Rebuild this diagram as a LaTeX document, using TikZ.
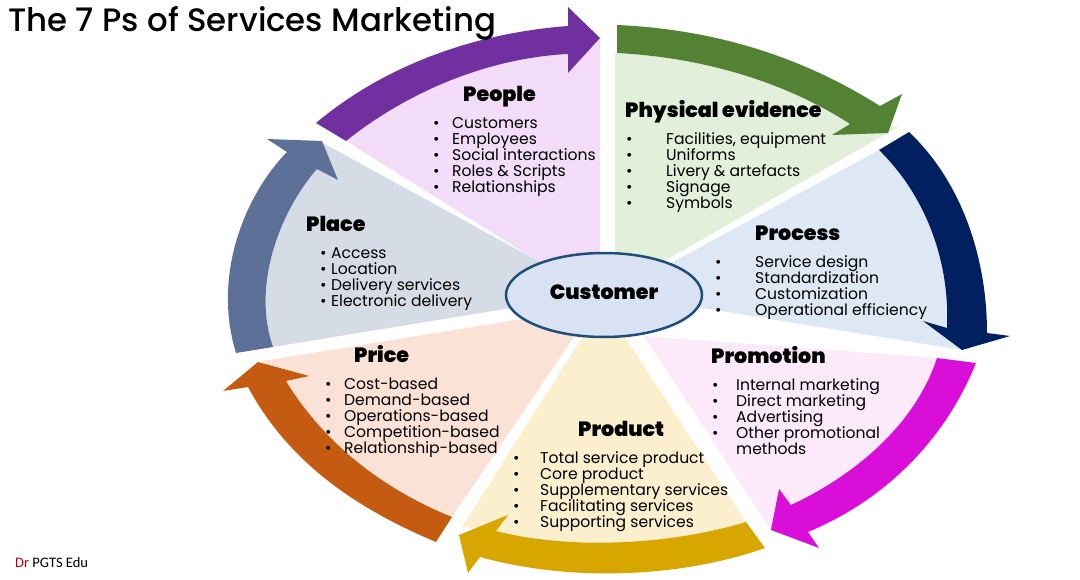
\documentclass[tikz,border=0pt]{standalone}
\usepackage{fontspec}
\setmainfont{Poppins}
\newfontfamily\headfont{Poppins Black}
\newfontfamily\titlefont{Poppins Medium}
\newfontfamily\markfont{Carlito}
\usepackage{tikz}
\usetikzlibrary{positioning,shapes.geometric}

\definecolor{peoplebg}{HTML}{F2DCF7}
\definecolor{physbg}{HTML}{E2EFDA}
\definecolor{processbg}{HTML}{DEE8F4}
\definecolor{promobg}{HTML}{FCE9FA}
\definecolor{productbg}{HTML}{FCEFCD}
\definecolor{pricebg}{HTML}{FAE3D6}
\definecolor{placebg}{HTML}{D6DCE5}
\definecolor{peoplearr}{HTML}{7030A0}
\definecolor{physarr}{HTML}{548235}
\definecolor{processarr}{HTML}{002060}
\definecolor{promoarr}{HTML}{D90FD9}
\definecolor{productarr}{HTML}{D8A600}
\definecolor{pricearr}{HTML}{C55A11}
\definecolor{placearr}{HTML}{5D7097}
\definecolor{custbg}{HTML}{D9E2F3}
\definecolor{custline}{HTML}{1F4E79}

\newenvironment{plist}[1]{\begin{tabular}{@{}p{#1}@{}l@{}}}{\end{tabular}}
\newcommand{\pit}[1]{\textbullet & \smash{#1} \\}

\tikzset{
  head/.style={anchor=west,inner sep=0pt,text height=15pt,text depth=4pt,font=\headfont\fontsize{20.6}{22}\selectfont},
  items/.style={inner sep=0pt,font=\fontsize{15.6}{16}\selectfont},
}

\begin{document}
\begin{tikzpicture}[x=1pt,y=-1pt]
  \useasboundingbox (0,0) rectangle (1080,580);

  \fill[peoplebg] (346,141) .. controls (410,90) and (490,58) .. (568,54) -- (600,38) -- (600,300) -- cycle;
  \fill[physbg] (615,53) .. controls (710,58) and (790,85) .. (850,124) -- (898,127) -- (640,275) -- (615,290) -- cycle;
  \fill[processbg] (879,150) .. controls (925,195) and (950,260) .. (947,328) -- (962,350) -- (640,298) -- (640,280) -- cycle;
  \fill[promobg] (644,336) -- (937,358) .. controls (915,425) and (855,475) .. (791,505) -- (771,530) -- cycle;
  \fill[productbg] (590,325) -- (617,325) -- (746,522) .. controls (670,545) and (570,550) .. (496,531) -- (462,527) -- cycle;
  \fill[pricebg] (262,361) -- (560,313) -- (582,325) -- (452,517) .. controls (385,490) and (325,445) .. (286,381) -- cycle;
  \fill[placebg] (273,347) .. controls (250,280) and (285,205) .. (317,169) -- (323,143) -- (560,273) -- (560,300) -- cycle;

  \fill[peoplearr] (316,123) .. controls (385,65) and (475,33) .. (568,26) -- (568,7) -- (600,38) -- (568,73) -- (568,54) .. controls (490,58) and (410,90) .. (346,141) -- cycle;
  \fill[physarr] (617,25) .. controls (730,30) and (815,65) .. (880,106) -- (902,94) -- (888,133) -- (832,135) -- (850,124) .. controls (790,85) and (710,58) .. (617,53) -- cycle;
  \fill[processarr] (909,132) .. controls (960,180) and (987,255) .. (987,333) -- (1010,336) -- (962,350) -- (923,321) -- (947,328) .. controls (950,260) and (925,195) .. (879,150) -- cycle;
  \fill[promoarr] (976,363) .. controls (945,440) and (885,500) .. (808,532) -- (819,548) -- (771,530) -- (779,489) -- (791,505) .. controls (855,475) and (915,425) .. (937,358) -- cycle;
  \fill[productarr] (765,548) .. controls (680,578) and (570,582) .. (480,557) -- (468,573) -- (459,535) -- (508,515) -- (496,531) .. controls (570,550) and (670,545) .. (746,522) -- cycle;
  \fill[pricearr] (436,542) .. controls (360,510) and (290,465) .. (248,387) -- (223,391) -- (258,362) -- (309,376) -- (286,381) .. controls (325,445) and (385,490) .. (452,517) -- cycle;
  \fill[placearr] (236,353) .. controls (212,275) and (245,195) .. (287,152) -- (267,139) -- (322,141) -- (338,180) -- (317,169) .. controls (285,205) and (250,280) .. (273,347) -- cycle;

  \node[anchor=west,inner sep=0pt,font=\titlefont\fontsize{32.4}{34}\selectfont] (title) at (8,23) {The 7 Ps of Services Marketing};

  \node[ellipse,draw=custline,fill=custbg,line width=2.5pt,minimum width=196pt,minimum height=84pt,inner sep=0pt,text height=15pt,text depth=6.4pt,font=\headfont\fontsize{20.6}{22}\selectfont] (customer) at (604,295) {Customer};

  \node[head] (people) at (463,96) {People};
  \node[items] (peoplelist) [below right=11.5pt and -30pt of people.south west] {\begin{plist}{19pt}
    \pit{Customers} \pit{Employees} \pit{Social interactions} \pit{Roles \& Scripts} \pit{Relationships}
  \end{plist}};

  \node[head] (physical) at (625,112) {Physical evidence};
  \node[items] (physicallist) [below right=11.5pt and 1pt of physical.south west] {\begin{plist}{40pt}
    \pit{Facilities, equipment} \pit{Uniforms} \pit{Livery \& artefacts} \pit{Signage} \pit{Symbols}
  \end{plist}};

  \node[head] (process) at (755,235) {Process};
  \node[items] (processlist) [below right=11.5pt and -40pt of process.south west] {\begin{plist}{40pt}
    \pit{Service design} \pit{Standardization} \pit{Customization} \pit{Operational efficiency}
  \end{plist}};

  \node[head] (promotion) at (711,358) {Promotion};
  \node[items] (promotionlist) [below right=11.5pt and 1pt of promotion.south west] {\begin{plist}{24pt}
    \pit{Internal marketing} \pit{Direct marketing} \pit{Advertising} \pit{Other promotional} & \smash{methods}
  \end{plist}};

  \node[head] (product) at (578,431) {Product};
  \node[items] (productlist) [below right=11.5pt and -65pt of product.south west] {\begin{plist}{27pt}
    \pit{Total service product} \pit{Core product} \pit{Supplementary services} \pit{Facilitating services} \pit{Supporting services}
  \end{plist}};

  \node[head] (price) at (354,357) {Price};
  \node[items] (pricelist) [below right=11.5pt and -29pt of price.south west] {\begin{plist}{19pt}
    \pit{Cost-based} \pit{Demand-based} \pit{Operations-based} \pit{Competition-based} \pit{Relationship-based}
  \end{plist}};

  \node[head] (place) at (306,226) {Place};
  \node[items] (placelist) [below right=11.5pt and 14pt of place.south west] {\begin{plist}{11pt}
    \pit{Access} \pit{Location} \pit{Delivery services} \pit{Electronic delivery}
  \end{plist}};

  \node[anchor=west,inner sep=0pt,font=\markfont\fontsize{14.5}{16}\selectfont] (credit) at (15,563) {\textcolor{red!75!black}{Dr} PGTS Edu};

\end{tikzpicture}
\end{document}
